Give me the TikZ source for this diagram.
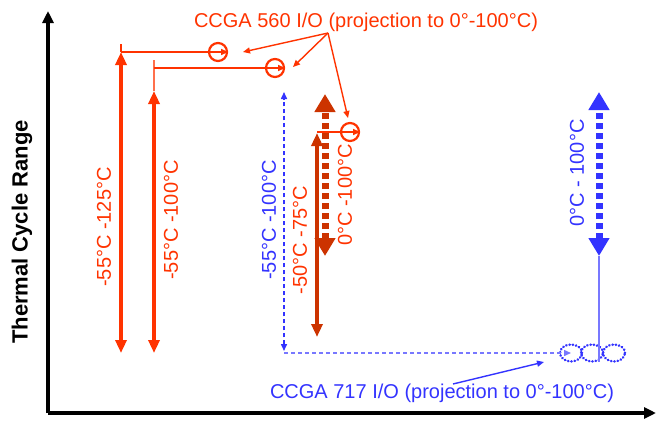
\documentclass[tikz,border=0pt]{standalone}
\usepackage{fontspec}
\setmainfont{Liberation Sans}
\usetikzlibrary{arrows.meta,shapes.geometric}
\definecolor{ccred}{RGB}{255,51,0}
\definecolor{ccdark}{RGB}{204,51,0}
\definecolor{ccblue}{RGB}{51,51,255}
\definecolor{cclight}{RGB}{120,120,255}

\begin{document}
\begin{tikzpicture}[
		x=1pt, y=-1pt,
		font=\fontsize{20}{23}\selectfont,
		axis/.style={line width=3.5pt, -{Triangle[length=12pt,width=11pt]}},
		rng/.style={line width=4pt, {Triangle[length=13pt,width=11pt]}-{Triangle[length=13pt,width=11pt]}},
		bigrng/.style={line width=7pt, dash pattern=on 6pt off 4pt,
			{Triangle[length=18pt,width=20pt]}-{Triangle[length=18pt,width=20pt]}},
		thin/.style={line width=1.5pt},
		lead/.style={line width=1.4pt, -{Triangle[length=7pt,width=6pt]}},
		mark560/.style={circle, draw=ccred, line width=2.2pt, minimum size=18pt, inner sep=0pt},
		mark717/.style={ellipse, draw=ccblue, line width=2.6pt, dash pattern=on 0.3pt off 3pt,
			line cap=round, minimum width=22pt, minimum height=17pt, inner sep=0pt},
		vlabel/.style={rotate=90}
	]
		\useasboundingbox (0,0) rectangle (656,423);
		% axes
		\coordinate (O) at (48,413);
		\coordinate (ytop) at (48,11);
		\coordinate (xend) at (656,413);
		\draw[axis] (O) -- (ytop);
		\draw[axis] (O) -- (xend);
		\node[vlabel, font=\fontsize{22}{26}\selectfont\bfseries] (ylab) at (22,232) {Thermal Cycle Range};
		% CCGA 560 ranges
		\coordinate (r125top) at (121,52);
		\coordinate (r125bot) at (121,353);
		\coordinate (r100top) at (154,91);
		\coordinate (r100bot) at (154,353);
		\draw[rng, ccred] (r125bot) -- (r125top);
		\draw[rng, ccred] (r100bot) -- (r100top);
		\node[vlabel, text=ccred] (l125) at (104,227) {-55°C -125°C};
		\node[vlabel, text=ccred] (l100) at (171,220) {-55°C -100°C};
		% projection markers
		\node[mark560] (c125) at (218,52) {};
		\node[mark560] (c100) at (275,68) {};
		\node[mark560] (c75) at (350,132) {};
		\coordinate (k125) at (121,44);
		\coordinate (k100) at (154,60);
		\draw[thin, ccred] (k125) -- (r125top);
		\draw[thin, ccred!70] (k100) -- (r100top);
		\draw[lead, ccred] (k125 |- c125) -- (c125.east);
		\draw[lead, ccred] (k100 |- c100) -- (c100.east);
		% -50/-75 and 0/100
		\coordinate (r75top) at (317,133);
		\coordinate (r75bot) at (317,337);
		\coordinate (p100top) at (325,94);
		\coordinate (p100bot) at (325,256);
		\draw[bigrng, ccdark] (p100bot) -- (p100top);
		\draw[rng, ccdark] (r75bot) -- (r75top);
		\draw[lead, ccred] (r75top |- c75) -- (c75.east);
		\node[vlabel, text=ccred] (l75) at (300,240) {-50°C -75°C};
		\node[vlabel, text=ccred] (l0r) at (345,195) {0°C -100°C};
		% CCGA 560 label
		\node[text=ccred] (t560) at (366,22) {CCGA 560 I/O (projection to 0°-100°C)};
		\coordinate (p560) at (328,33);
		\coordinate (q125) at (243,52);
		\coordinate (q100) at (293,67);
		\coordinate (q75) at (348,118);
		\draw[lead, ccred] (p560) -- (q125);
		\draw[lead, ccred] (p560) -- (q100);
		\draw[lead, ccred] (p560) -- (q75);
		% CCGA 717 range
		\coordinate (b55top) at (284,92);
		\coordinate (b55bot) at (284,351);
		\draw[thin, ccblue, dash pattern=on 4pt off 3pt,
			{Triangle[length=7pt,width=6pt]}-{Triangle[length=7pt,width=6pt]}] (b55bot) -- (b55top);
		\node[vlabel, text=ccblue] (lb55) at (269,220) {-55°C -100°C};
		\node[mark717] (e1) at (571,353) {};
		\node[mark717] (e2) at (592,353) {};
		\node[mark717] (e3) at (614,353) {};
		\coordinate (h717) at (284,353);
		\draw[lead, cclight, dash pattern=on 4pt off 3pt] (h717) -- (e1.center);
		\coordinate (b0top) at (599,92);
		\coordinate (b0bot) at (599,256);
		\coordinate (b0foot) at (599,362);
		\draw[thin, cclight] (b0bot) -- (b0foot);
		\draw[bigrng, ccblue] (b0bot) -- (b0top);
		\node[vlabel, text=ccblue] (lb0) at (577,173) {0°C - 100°C};
		% CCGA 717 label
		\node[text=ccblue] (t717) at (442,393) {CCGA 717 I/O (projection to 0°-100°C)};
		\coordinate (p717) at (453,384);
		\coordinate (q717) at (544,362);
		\draw[lead, ccblue] (p717) -- (q717);
	\end{tikzpicture}
\end{document}
